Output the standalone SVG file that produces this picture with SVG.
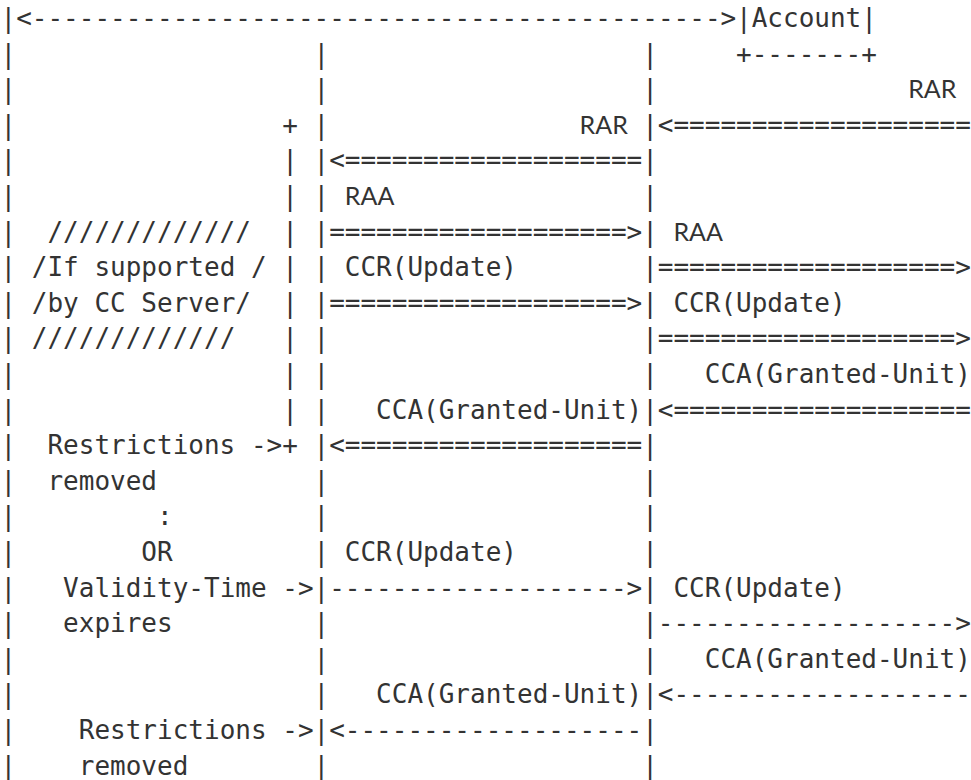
<svg xmlns="http://www.w3.org/2000/svg" width="971" height="780" viewBox="0 0 971 780">
<style>
text{font-family:"DejaVu Sans Mono","Liberation Mono",monospace;font-size:26px;fill:#333;white-space:pre}
text.s{font-family:Lato,"Liberation Sans",sans-serif;font-size:25px}
</style>
<rect width="971" height="780" fill="#fff"/>
<g id="lifeline-left">
<text x="0.5"><tspan x="0.5" y="27">|</tspan><tspan x="0.5" y="62.6">|</tspan><tspan x="0.5" y="98.2">|</tspan><tspan x="0.5" y="133.8">|</tspan><tspan x="0.5" y="169.4">|</tspan><tspan x="0.5" y="205">|</tspan><tspan x="0.5" y="240.6">|</tspan><tspan x="0.5" y="276.2">|</tspan><tspan x="0.5" y="311.8">|</tspan><tspan x="0.5" y="347.4">|</tspan><tspan x="0.5" y="383">|</tspan><tspan x="0.5" y="418.6">|</tspan><tspan x="0.5" y="454.2">|</tspan><tspan x="0.5" y="489.8">|</tspan><tspan x="0.5" y="525.4">|</tspan><tspan x="0.5" y="561">|</tspan><tspan x="0.5" y="596.6">|</tspan><tspan x="0.5" y="632.2">|</tspan><tspan x="0.5" y="667.8">|</tspan><tspan x="0.5" y="703.4">|</tspan><tspan x="0.5" y="739">|</tspan><tspan x="0.5" y="774.6">|</tspan></text>
</g>
<g id="lifeline-restriction">
<text x="282.2"><tspan x="282.2" y="133.8">+</tspan><tspan x="282.2" y="169.4">|</tspan><tspan x="282.2" y="205">|</tspan><tspan x="282.2" y="240.6">|</tspan><tspan x="282.2" y="276.2">|</tspan><tspan x="282.2" y="311.8">|</tspan><tspan x="282.2" y="347.4">|</tspan><tspan x="282.2" y="383">|</tspan><tspan x="282.2" y="418.6">|</tspan><tspan x="282.2" y="454.2">+</tspan></text>
</g>
<g id="lifeline-client">
<text x="313.5"><tspan x="313.5" y="62.6">|</tspan><tspan x="313.5" y="98.2">|</tspan><tspan x="313.5" y="133.8">|</tspan><tspan x="313.5" y="169.4">|</tspan><tspan x="313.5" y="205">|</tspan><tspan x="313.5" y="240.6">|</tspan><tspan x="313.5" y="276.2">|</tspan><tspan x="313.5" y="311.8">|</tspan><tspan x="313.5" y="347.4">|</tspan><tspan x="313.5" y="383">|</tspan><tspan x="313.5" y="418.6">|</tspan><tspan x="313.5" y="454.2">|</tspan><tspan x="313.5" y="489.8">|</tspan><tspan x="313.5" y="525.4">|</tspan><tspan x="313.5" y="561">|</tspan><tspan x="313.5" y="596.6">|</tspan><tspan x="313.5" y="632.2">|</tspan><tspan x="313.5" y="667.8">|</tspan><tspan x="313.5" y="703.4">|</tspan><tspan x="313.5" y="739">|</tspan><tspan x="313.5" y="774.6">|</tspan></text>
</g>
<g id="lifeline-server">
<text x="642.15"><tspan x="642.15" y="62.6">|</tspan><tspan x="642.15" y="98.2">|</tspan><tspan x="642.15" y="133.8">|</tspan><tspan x="642.15" y="169.4">|</tspan><tspan x="642.15" y="205">|</tspan><tspan x="642.15" y="240.6">|</tspan><tspan x="642.15" y="276.2">|</tspan><tspan x="642.15" y="311.8">|</tspan><tspan x="642.15" y="347.4">|</tspan><tspan x="642.15" y="383">|</tspan><tspan x="642.15" y="418.6">|</tspan><tspan x="642.15" y="454.2">|</tspan><tspan x="642.15" y="489.8">|</tspan><tspan x="642.15" y="525.4">|</tspan><tspan x="642.15" y="561">|</tspan><tspan x="642.15" y="596.6">|</tspan><tspan x="642.15" y="632.2">|</tspan><tspan x="642.15" y="667.8">|</tspan><tspan x="642.15" y="703.4">|</tspan><tspan x="642.15" y="739">|</tspan><tspan x="642.15" y="774.6">|</tspan></text>
</g>
<g id="node-account">
<text x="736.05" y="27">|Account|</text>
<text x="736.05" y="62.6">+-------+</text>
</g>
<g id="note-supported">
<text x="47.45" y="240.6">/////////////</text>
<text x="31.8" y="276.2">/If supported /</text>
<text x="31.8" y="311.8">/by CC Server/</text>
<text x="31.8" y="347.4">/////////////</text>
</g>
<g id="note-events">
<text x="47.45" y="454.2">Restrictions -&gt;</text>
<text x="47.45" y="489.8">removed</text>
<text x="157" y="525.4">:</text>
<text x="141.35" y="561">OR</text>
<text x="63.1" y="596.6">Validity-Time -&gt;</text>
<text x="63.1" y="632.2">expires</text>
<text x="78.75" y="739">Restrictions -&gt;</text>
<text x="78.75" y="774.6">removed</text>
</g>
<g id="connectors">
<text x="16.15" y="27">&lt;--------------------------------------------&gt;</text>
<text x="657.8" y="133.8">&lt;===================</text>
<text x="329.15" y="169.4">&lt;===================</text>
<text x="329.15" y="240.6">===================&gt;</text>
<text x="657.8" y="276.2">===================&gt;</text>
<text x="329.15" y="311.8">===================&gt;</text>
<text x="657.8" y="347.4">===================&gt;</text>
<text x="657.8" y="418.6">&lt;===================</text>
<text x="329.15" y="454.2">&lt;===================</text>
<text x="329.15" y="596.6">-------------------&gt;</text>
<text x="657.8" y="632.2">-------------------&gt;</text>
<text x="657.8" y="703.4">&lt;-------------------</text>
<text x="329.15" y="739">&lt;-------------------</text>
</g>
<g id="labels">
<text class="s" x="908.2" y="98.2">RAR</text>
<text class="s" x="579.55" y="133.8">RAR</text>
<text class="s" x="344.8" y="205">RAA</text>
<text class="s" x="673.45" y="240.6">RAA</text>
<text x="344.8" y="276.2">CCR(Update)</text>
<text x="673.45" y="311.8">CCR(Update)</text>
<text x="704.75" y="383">CCA(Granted-Unit)</text>
<text x="376.1" y="418.6">CCA(Granted-Unit)</text>
<text x="344.8" y="561">CCR(Update)</text>
<text x="673.45" y="596.6">CCR(Update)</text>
<text x="704.75" y="667.8">CCA(Granted-Unit)</text>
<text x="376.1" y="703.4">CCA(Granted-Unit)</text>
</g>
</svg>
